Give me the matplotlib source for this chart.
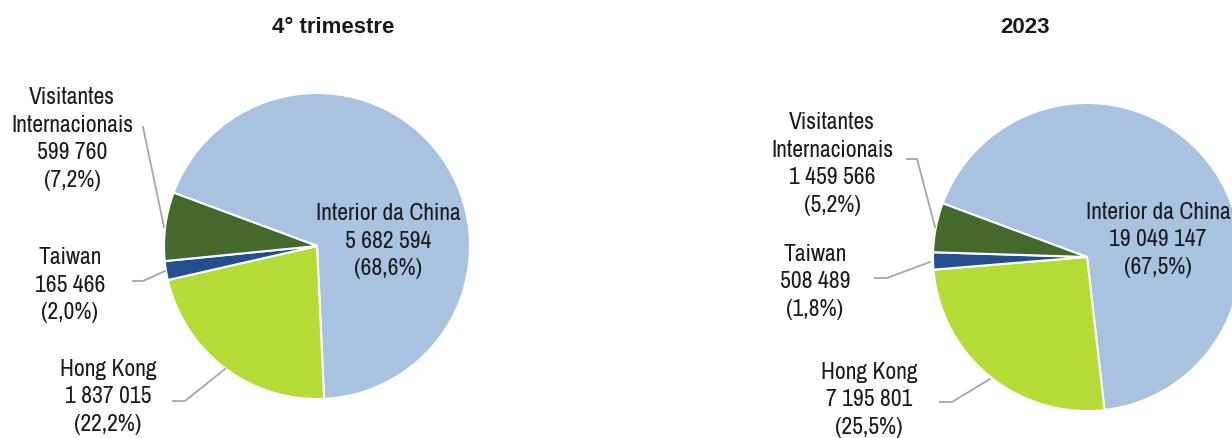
import matplotlib
matplotlib.use("Agg")
import matplotlib.pyplot as plt
from matplotlib import font_manager

# ---------------- data ----------------
categories = ["Interior da China", "Hong Kong", "Taiwan", "Visitantes\nInternacionais"]
titles = ["4° trimestre", "2023"]
values_q4 = [5682594, 1837015, 165466, 599760]
values_2023 = [19049147, 7195801, 508489, 1459566]

colors = ["#A9C2E0", "#B5DB37", "#234F8F", "#44692C"]

names = sorted({f.name for f in font_manager.fontManager.ttflist})
narrow = [n for n in names if ("Narrow" in n or "Condensed" in n)]
if narrow:
    fam = narrow[0]
    FS = 17
    LS = 1.41
else:
    fam = "Liberation Sans"
    FS = 14.5
    LS = 1.40
plt.rcParams['font.family'] = [fam, 'DejaVu Sans']

W, H = 1232, 439
fig = plt.figure(figsize=(W / 100, H / 100), dpi=100)
ax = fig.add_axes([0, 0, 1, 1])

def fmt_num(v):
    return f"{v:,}".replace(",", " ")

def fmt_pct(p):
    return f"({p:.1f}%)".replace(".", ",")

TXT = "#1a1a1a"
LINE = "#A6A6A6"

# layout in pixel coordinates (y measured from top)
panels = [
    dict(values=values_q4, center=(317, 247), r=153, title_x=333,
         label_pos=[(388, 241), (108, 397), (70, 285), (72, 139)],
         leaders=[None,
                  [(173, 402), (185, 402), (225, 370)],
                  [(133, 282), (143, 282), (165, 272)],
                  [(143, 128), (164, 228)]]),
    dict(values=values_2023, center=(1087, 258), r=154, title_x=1025,
         label_pos=[(1158, 240), (869, 400), (815, 282), (832, 164)],
         leaders=[None,
                  [(940, 403), (952, 403), (990, 380)],
                  [(875, 279), (887, 279), (930, 263)],
                  [(907, 160), (917, 160), (935, 228)]]),
]

for k, p in enumerate(panels):
    vals = p["values"]
    cx, cy = p["center"]
    ax.pie(vals, colors=colors, startangle=159.6, counterclock=False,
           center=(cx, H - cy), radius=p["r"],
           wedgeprops=dict(edgecolor="white", linewidth=1.5))
    total = sum(vals)
    for i, v in enumerate(vals):
        lx, ly = p["label_pos"][i]
        txt = f"{categories[i]}\n{fmt_num(v)}\n{fmt_pct(100 * v / total)}"
        ax.text(lx, H - ly, txt, ha="center", va="center", fontsize=FS,
                color=TXT, linespacing=LS)
        ld = p["leaders"][i]
        if ld:
            ax.plot([q[0] for q in ld], [H - q[1] for q in ld], color=LINE, lw=1.3)
    ax.text(p["title_x"], H - 27, titles[k], ha="center", va="center",
            fontsize=16, fontweight="bold", color=TXT, family="Liberation Sans")

ax.set_xlim(0, W)
ax.set_ylim(0, H)
ax.set_aspect("auto")
ax.axis("off")
fig.savefig("out.png", dpi=100, facecolor="white")
